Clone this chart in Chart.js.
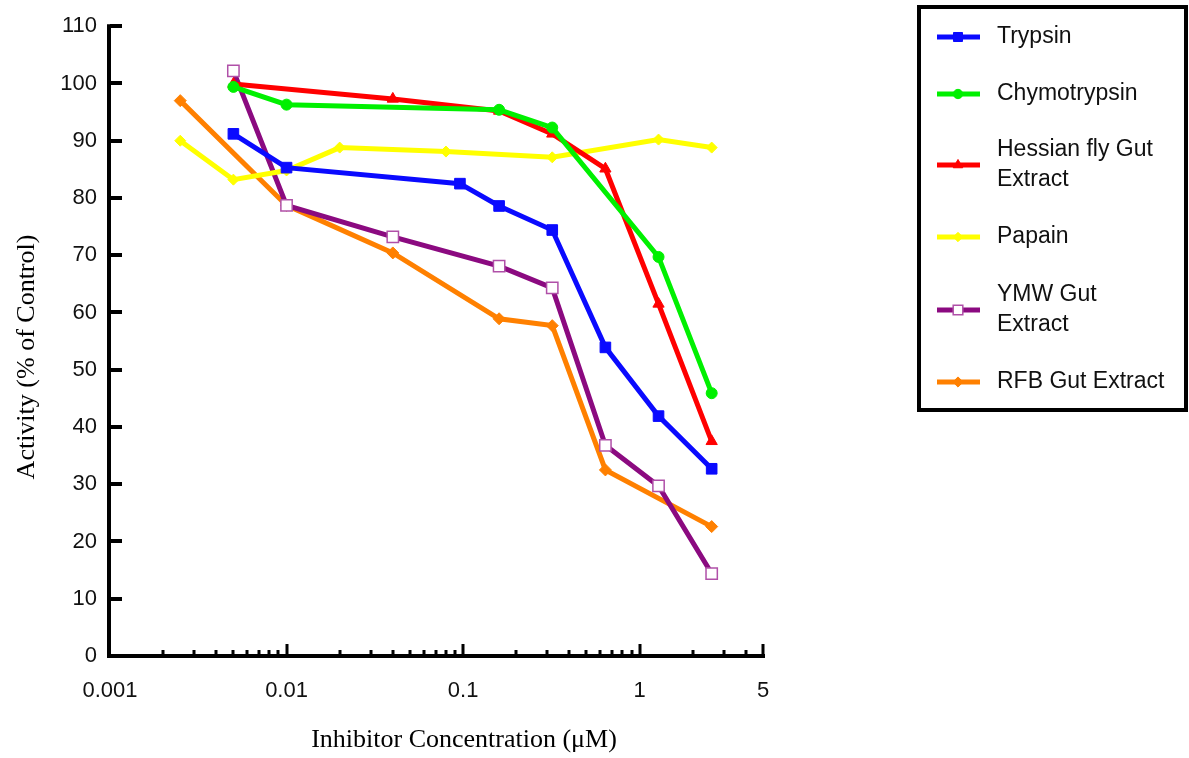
<!DOCTYPE html>
<html>
<head>
<meta charset="utf-8">
<script src="https://cdn.jsdelivr.net/npm/chart.js@4"></script>
<style>
  html, body { margin: 0; padding: 0; background: #fff; }
  #wrap { width: 1189px; height: 758px; position: relative; }
</style>
</head>
<body>
<div id="wrap"><canvas id="chart"></canvas></div>
<script>
// concentrations (uM) and activities (% of control)
const trypsinX = [0.005, 0.01, 0.096, 0.16, 0.32, 0.64, 1.28, 2.56];
const trypsinY = [91.2, 85.3, 82.5, 78.6, 74.4, 53.9, 41.9, 32.7];

const chymoX = [0.005, 0.01, 0.16, 0.32, 1.28, 2.56];
const chymoY = [99.4, 96.3, 95.4, 92.3, 69.7, 45.9];

const hessianX = [0.005, 0.04, 0.16, 0.32, 0.64, 1.28, 2.56];
const hessianY = [99.9, 97.3, 95.2, 91.2, 85.1, 61.5, 37.5];

const papainX = [0.0025, 0.005, 0.01, 0.02, 0.08, 0.32, 1.28, 2.56];
const papainY = [90.0, 83.2, 84.8, 88.8, 88.1, 87.1, 90.2, 88.8];

const ymwX = [0.005, 0.01, 0.04, 0.16, 0.32, 0.64, 1.28, 2.56];
const ymwY = [102.2, 78.7, 73.2, 68.1, 64.3, 36.8, 29.7, 14.4];

const rfbX = [0.0025, 0.01, 0.04, 0.16, 0.32, 0.64, 2.56];
const rfbY = [97.0, 78.7, 70.4, 58.9, 57.7, 32.5, 22.6];

const seriesNames = ['Trypsin', 'Chymotrypsin', 'Hessian fly Gut Extract', 'Papain', 'YMW Gut Extract', 'RFB Gut Extract'];
const legendLines = [['Trypsin'], ['Chymotrypsin'], ['Hessian fly Gut', 'Extract'], ['Papain'], ['YMW Gut', 'Extract'], ['RFB Gut Extract']];
const xTickValues = [0.001, 0.01, 0.1, 1, 5];
const yTickStep = 10;

const pts = (xs, ys) => xs.map((x, i) => ({ x: x, y: ys[i] }));

function series(i, xs, ys, color, style, radius, extra) {
    return Object.assign({
        label: seriesNames[i],
        data: pts(xs, ys),
        borderColor: color,
        backgroundColor: color,
        borderWidth: 5,
        pointStyle: style,
        pointRadius: radius,
        pointBorderWidth: 1,
        pointBorderColor: color,
        pointBackgroundColor: color,
        tension: 0,
        clip: false
    }, extra || {});
}

const datasets = [
    series(0, trypsinX, trypsinY, '#0a0aff', 'rect', 7.5),
    series(1, chymoX, chymoY, '#00f000', 'circle', 5.5),
    series(2, hessianX, hessianY, '#ff0000', 'triangle', 6.5),
    series(3, papainX, papainY, '#ffff00', 'rectRot', 5.5),
    series(4, ymwX, ymwY, '#8b0a80', 'rect', 8, {
        pointBackgroundColor: '#ffffff', pointBorderColor: '#b050a8', pointBorderWidth: 1.5
    }),
    series(5, rfbX, rfbY, '#ff8000', 'rectRot', 6)
];

// axes, ticks, titles and boxed legend drawn on top of the chart
const decorations = {
    id: 'decorations',
    afterDraw(chart) {
        const ctx = chart.ctx;
        const xs = chart.scales.x, ys = chart.scales.y;
        const a = chart.chartArea;
        ctx.save();
        ctx.strokeStyle = '#000';
        ctx.lineCap = 'butt';

        // axis lines
        ctx.lineWidth = 4;
        ctx.beginPath();
        ctx.moveTo(a.left - 1, a.top - 2);
        ctx.lineTo(a.left - 1, a.bottom + 2);
        ctx.moveTo(a.left - 3, a.bottom);
        ctx.lineTo(a.right + 2, a.bottom);
        ctx.stroke();

        // y ticks, pointing inward
        ctx.beginPath();
        for (let v = 0; v <= ys.max; v += yTickStep) {
            const py = Math.round(ys.getPixelForValue(v));
            ctx.moveTo(a.left, py);
            ctx.lineTo(a.left + 12, py);
        }
        ctx.stroke();

        // x ticks: decades tall, in-between short
        ctx.lineWidth = 3;
        ctx.beginPath();
        for (let d = 0.001; d < 5; d *= 10) {
            for (let m = 2; m <= 10; m++) {
                const v = d * m;
                if (v > 5.0001) continue;
                const px = Math.round(xs.getPixelForValue(v));
                const tall = (m === 10 || Math.abs(v - 5) < 1e-9);
                ctx.moveTo(px, a.bottom);
                ctx.lineTo(px, a.bottom - (tall ? 12 : 6));
            }
        }
        ctx.stroke();

        // axis titles
        ctx.fillStyle = '#000';
        ctx.font = '26px "Liberation Serif", "Times New Roman", serif';
        ctx.textAlign = 'center';
        ctx.textBaseline = 'middle';
        ctx.fillText('Inhibitor Concentration (\u03bcM)', 464, 740);
        ctx.save();
        ctx.translate(27, 357);
        ctx.rotate(-Math.PI / 2);
        ctx.fillText('Activity (% of Control)', 0, 0);
        ctx.restore();

        // legend box
        ctx.strokeStyle = '#000';
        ctx.lineWidth = 4;
        ctx.strokeRect(919, 7, 267, 403);
        const rowY = [37, 94, 165, 237, 310, 382];
        ctx.font = '23px "Liberation Sans", Arial, sans-serif';
        ctx.textAlign = 'left';
        chart.data.datasets.forEach((ds, i) => {
            const cy = rowY[i];
            ctx.strokeStyle = ds.borderColor;
            ctx.lineWidth = 5;
            ctx.beginPath();
            ctx.moveTo(937, cy);
            ctx.lineTo(980, cy);
            ctx.stroke();
            ctx.fillStyle = ds.pointBackgroundColor;
            ctx.strokeStyle = ds.pointBorderColor;
            ctx.lineWidth = ds.pointBorderWidth;
            Chart.helpers.drawPoint(ctx, {
                pointStyle: ds.pointStyle,
                radius: ds.pointRadius * 0.85,
                rotation: 0,
                borderWidth: ds.pointBorderWidth
            }, 958, cy);
            ctx.fillStyle = '#111';
            const lines = legendLines[i];
            const lh = 30;
            const start = cy - (lines.length - 1) * lh / 2;
            lines.forEach((t, k) => ctx.fillText(t, 997, start + k * lh));
        });
        ctx.restore();
    }
};

const tickFont = { family: '"Liberation Sans", Arial, sans-serif', size: 22 };

new Chart(document.getElementById('chart'), {
    type: 'line',
    data: { datasets: datasets },
    plugins: [decorations],
    options: {
        responsive: true,
        maintainAspectRatio: false,
        animation: false,
        events: [],
        layout: { padding: { top: 21, right: 426, left: 0, bottom: 0 } },
        plugins: {
            legend: { display: false },
            tooltip: { enabled: false }
        },
        scales: {
            x: {
                type: 'logarithmic',
                min: 0.001,
                max: 5,
                grid: { display: false, drawTicks: false },
                border: { display: false },
                afterBuildTicks: (scale) => {
                    scale.ticks = xTickValues.map(v => ({ value: v, major: true }));
                },
                afterFit: (scale) => { scale.height = 102; },
                ticks: {
                    color: '#111',
                    font: tickFont,
                    padding: 22,
                    maxRotation: 0,
                    autoSkip: false,
                    callback: (v) => String(v)
                }
            },
            y: {
                min: 0,
                max: 110,
                grid: { display: false, drawTicks: false },
                border: { display: false },
                afterFit: (scale) => { scale.width = 110; },
                ticks: {
                    stepSize: yTickStep,
                    color: '#111',
                    font: tickFont,
                    padding: 13
                }
            }
        }
    }
});
</script>
</body>
</html>
